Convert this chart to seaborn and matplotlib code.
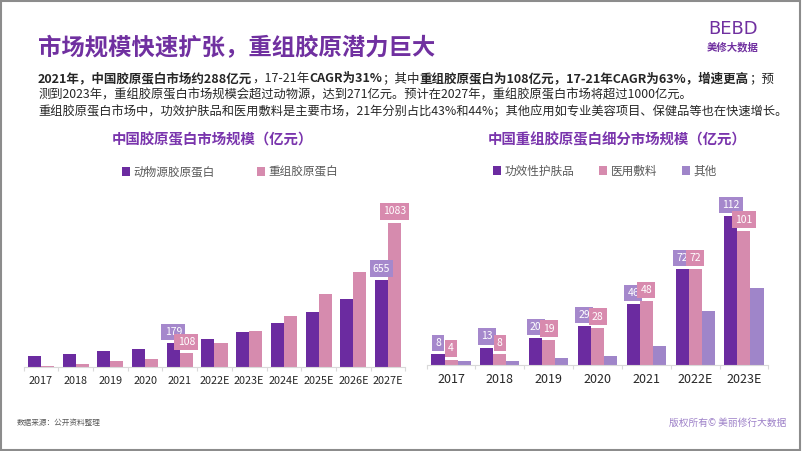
import numpy as np
import pandas as pd
import matplotlib.pyplot as plt
import seaborn as sns
from matplotlib.patches import Rectangle

# =========================
# Data
# =========================
years = ["2017", "2018", "2019", "2020", "2021", "2022E", "2023E",
         "2024E", "2025E", "2026E", "2027E"]
animal = [83, 97, 122, 137, 179, 210, 265, 330, 412, 514, 655]
recomb = [12, 24, 44, 64, 108, 185, 271, 385, 547, 717, 1083]
left_series = ["动物源胶原蛋白", "重组胶原蛋白"]
left_label_years = ["2021", "2027E"]

seg_years = ["2017", "2018", "2019", "2020", "2021", "2022E", "2023E"]
skincare = [8, 13, 20, 29, 46, 72, 112]
dressing = [4, 8, 19, 28, 48, 72, 101]
other = [3, 3, 5, 7, 14, 41, 58]
right_series = ["功效性护肤品", "医用敷料", "其他"]

PURPLE = "#6b2ba0"
PINK = "#d68bae"
LILAC = "#9f85c9"
LBL_PURPLE = "#a588cc"
LBL_PINK = "#d88aae"
TITLE = "#7030a0"

df_left = pd.DataFrame({
    "year": years * 2,
    "value": animal + recomb,
    "type": [left_series[0]] * len(years) + [left_series[1]] * len(years),
})
df_right = pd.DataFrame({
    "year": seg_years * 3,
    "value": skincare + dressing + other,
    "type": sum([[s] * len(seg_years) for s in right_series], []),
})

sns.set_theme(style="white")
plt.rcParams["font.family"] = ["Noto Sans CJK SC", "DejaVu Sans"]

W, H = 802, 451
fig = plt.figure(figsize=(W / 100, H / 100), dpi=100)


def fx(px):
    return px / W


def fy(py):
    return 1 - py / H


# =========================
# Header
# =========================
fig.text(fx(38), fy(48), "市场规模快速扩张，重组胶原潜力巨大", fontsize=16.8,
         weight="bold", color=TITLE, va="center", ha="left")
fig.text(fx(733), fy(29), "BEBD", fontsize=13, color=TITLE, ha="center",
         va="center", family="DejaVu Sans")
fig.text(fx(733), fy(47), "美修大数据", fontsize=7.5, color=TITLE, ha="center",
         va="center", weight="bold")

renderer = fig.canvas.get_renderer()


def draw_runs(x_px, y_px, runs, size=9, color="#262626"):
    x = x_px
    for s, bold in runs:
        t = fig.text(fx(x), fy(y_px), s, fontsize=size, color=color,
                     weight="bold" if bold else "normal", va="baseline", ha="left")
        x += t.get_window_extent(renderer).width


draw_runs(38, 82, [
    ("2021年，中国胶原蛋白市场约288亿元", True),
    ("，17-21年", False),
    ("CAGR为31%", True),
    ("；其中", False),
    ("重组胶原蛋白为108亿元，17-21年CAGR为63%，增速更高", True),
    ("；预", False),
])
draw_runs(38, 99, [("测到2023年，重组胶原蛋白市场规模会超过动物源，达到271亿元。"
                    "预计在2027年，重组胶原蛋白市场将超过1000亿元。", False)], size=8.85)
draw_runs(38, 115, [("重组胶原蛋白市场中，功效护肤品和医用敷料是主要市场，21年分别占比43%和44%；"
                     "其他应用如专业美容项目、保健品等也在快速增长。", False)], size=8.8)

# =========================
# Charts
# =========================
ax1 = fig.add_axes([fx(23.6), fy(367.3), fx(405.4 - 23.6), (367.3 - 200) / H])
ax2 = fig.add_axes([fx(426.6), fy(365), fx(768.4 - 426.6), (365 - 200) / H])

sns.barplot(data=df_left, x="year", y="value", hue="type", ax=ax1,
            palette=[PURPLE, PINK], width=0.75, saturation=1, linewidth=0)
sns.barplot(data=df_right, x="year", y="value", hue="type", ax=ax2,
            palette=[PURPLE, PINK, LILAC], width=0.8, saturation=1, linewidth=0)

ax1.set_ylim(0, 1253)
ax2.set_ylim(0, 124.2)

for ax, n, fs in [(ax1, len(years), 7.8), (ax2, len(seg_years), 9)]:
    ax.set_xlabel("")
    ax.set_ylabel("")
    ax.set_yticks([])
    ax.set_xlim(-0.5, n - 0.5)
    for sp in ["top", "left", "right"]:
        ax.spines[sp].set_visible(False)
    ax.spines["bottom"].set_color("#d9d9d9")
    ax.spines["bottom"].set_linewidth(0.8)
    ax.set_xticks(np.arange(-0.5, n, 1), minor=True)
    ax.tick_params(axis="x", which="major", length=0, pad=6,
                   labelsize=fs, labelcolor="#262626")
    ax.tick_params(axis="x", which="minor", length=3, color="#d9d9d9",
                   width=0.8, bottom=True)
    ax.patch.set_alpha(0)


def label_bars(ax, cats, containers, colors, only=None):
    for cont, col in zip(containers, colors):
        for i, bar in enumerate(cont):
            if only is not None and cats[i] not in only:
                continue
            h = bar.get_height()
            ax.annotate(f"{h:.0f}", xy=(bar.get_x() + bar.get_width() / 2, h),
                        xytext=(0, 4.5), textcoords="offset points",
                        ha="center", va="bottom", fontsize=7.5, color="white",
                        bbox=dict(boxstyle="square,pad=0.3", fc=col, ec="none"))


label_bars(ax1, years, ax1.containers[:2], [LBL_PURPLE, LBL_PINK], left_label_years)
label_bars(ax2, seg_years, ax2.containers[:2], [LBL_PURPLE, LBL_PINK])

fig.text(fx(212), fy(140), "中国胶原蛋白市场规模（亿元）", fontsize=10.4,
         weight="bold", color="#7a35ad", ha="center", va="center")
fig.text(fx(617), fy(140), "中国重组胶原蛋白细分市场规模（亿元）", fontsize=10.4,
         weight="bold", color="#7a35ad", ha="center", va="center")

sns.move_legend(ax1, "center", bbox_to_anchor=(fx(230), fy(172)),
                bbox_transform=fig.transFigure, ncol=2, frameon=False, title=None,
                handlelength=0.7, handleheight=0.7, handletextpad=0.3,
                columnspacing=3.6, fontsize=8.4, labelcolor="#595959")
sns.move_legend(ax2, "center", bbox_to_anchor=(fx(605), fy(171)),
                bbox_transform=fig.transFigure, ncol=3, frameon=False, title=None,
                handlelength=0.7, handleheight=0.7, handletextpad=0.3,
                columnspacing=2.1, fontsize=8.4, labelcolor="#595959")

# =========================
# Footer / frame
# =========================
fig.text(fx(17), fy(423), "数据来源：公开资料整理", fontsize=5.5, color="#595959",
         ha="left", va="center")
fig.text(fx(786), fy(423), "版权所有© 美丽修行大数据", fontsize=7, color="#9d80c8",
         ha="right", va="center")
fig.patches.append(Rectangle((0.001, 0.002), 0.997, 0.996, transform=fig.transFigure,
                             fill=False, edgecolor="#8c8c8c", linewidth=1.5))

fig.savefig("out.png", dpi=100)
